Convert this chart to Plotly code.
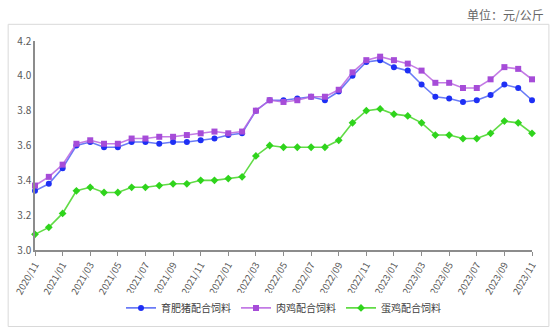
import plotly.graph_objects as go

months = ["2020/11","2020/12"] + [f"2021/{m:02d}" for m in range(1,13)] + [f"2022/{m:02d}" for m in range(1,13)] + [f"2023/{m:02d}" for m in range(1,12)]

pig = [3.34, 3.38, 3.47, 3.60, 3.62, 3.59, 3.59, 3.62, 3.62, 3.61, 3.62, 3.62, 3.63, 3.64, 3.66, 3.67,
       3.80, 3.86, 3.86, 3.87, 3.88, 3.86, 3.91, 4.00, 4.08, 4.09, 4.05, 4.03, 3.95, 3.88, 3.87, 3.85,
       3.86, 3.89, 3.95, 3.93, 3.86]
broiler = [3.37, 3.42, 3.49, 3.61, 3.63, 3.61, 3.61, 3.64, 3.64, 3.65, 3.65, 3.66, 3.67, 3.68, 3.67, 3.68,
           3.80, 3.86, 3.85, 3.86, 3.88, 3.88, 3.92, 4.02, 4.09, 4.11, 4.09, 4.07, 4.03, 3.96, 3.96, 3.93,
           3.93, 3.98, 4.05, 4.04, 3.98]
layer = [3.09, 3.13, 3.21, 3.34, 3.36, 3.33, 3.33, 3.36, 3.36, 3.37, 3.38, 3.38, 3.40, 3.40, 3.41, 3.42,
         3.54, 3.60, 3.59, 3.59, 3.59, 3.59, 3.63, 3.73, 3.80, 3.81, 3.78, 3.77, 3.73, 3.66, 3.66, 3.64,
         3.64, 3.67, 3.74, 3.73, 3.67]

names = ["育肥猪配合饲料", "肉鸡配合饲料", "蛋鸡配合饲料"]
tick_labels = months[::2]

series = [
    (pig, names[0], "rgba(80,100,245,0.85)", "#1e2ff5", "circle"),
    (broiler, names[1], "rgba(185,100,225,0.85)", "#a64cd8", "square"),
    (layer, names[2], "rgba(80,215,50,0.9)", "#2fd41c", "diamond"),
]

fig = go.Figure()
for vals, nm, lc, mc, sym in series:
    fig.add_trace(go.Scatter(
        x=months, y=vals, name=nm, mode="lines+markers",
        line=dict(color=lc, width=1.6),
        marker=dict(color=mc, size=6, symbol=sym),
        cliponaxis=False,
    ))

font = "Noto Sans CJK SC, Noto Sans, sans-serif"
fig.update_layout(
    width=554, height=335,
    margin=dict(l=32, r=22, t=41, b=81),
    paper_bgcolor="white", plot_bgcolor="white",
    font=dict(family=font, size=10, color="#595959"),
    showlegend=True,
    legend=dict(orientation="h", x=0.5, xanchor="center", y=-0.277, yanchor="middle",
                font=dict(size=10, color="#404040"), itemwidth=30, tracegroupgap=0),
    xaxis=dict(type="category", range=[0, len(months) - 1], tickmode="array",
               tickvals=tick_labels, ticktext=tick_labels, tickangle=-60,
               showline=True, linecolor="#8c8c8c", linewidth=1.5,
               ticks="outside", ticklen=4, tickcolor="#8c8c8c",
               showgrid=False, zeroline=False, tickfont=dict(size=9.5, color="#595959")),
    yaxis=dict(range=[3.0, 4.2], dtick=0.2, tickformat=".1f",
               showline=True, linecolor="#8c8c8c", linewidth=1.5,
               showgrid=False, zeroline=False, ticks="", tickfont=dict(size=10, color="#595959")),
    shapes=[dict(type="rect", xref="paper", yref="paper",
                 x0=-0.054, x1=1.034, y0=-0.366, y1=1.0798,
                 line=dict(color="#d9d9d9", width=1))],
    annotations=[dict(text="单位：元/公斤", xref="paper", yref="paper",
                      x=1.028, y=1.127, xanchor="right", yanchor="middle",
                      showarrow=False, font=dict(size=12, color="#666666"))],
)

fig.write_html("out.html")
